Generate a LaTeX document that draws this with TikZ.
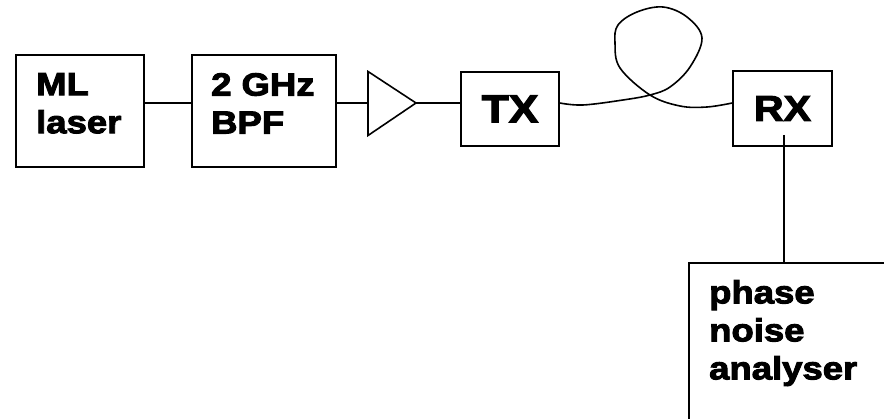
\documentclass[tikz,border=0pt]{standalone}
\usepackage{fontspec}
\newfontfamily\labelfont[FakeBold=3,FakeStretch=1.14]{Liberation Sans Bold}
\usetikzlibrary{positioning}

\begin{document}
\begin{tikzpicture}[
  x=1pt,y=-1pt,
  conn/.style={line width=1.6pt,black},
  blockbox/.style={rectangle,draw=black,line width=1.7pt,inner sep=0pt},
  lbl/.style={anchor=north west,align=left,inner sep=0pt,
              font=\labelfont\fontsize{32}{38}\selectfont},
]
  \useasboundingbox (0,0) rectangle (884,419);
  \clip (0,0) rectangle (884,419);

  % --- blocks ---
  \node[blockbox,minimum width=128pt,minimum height=112pt] (ml) at (80,111) {};
  \node[blockbox,minimum width=144pt,minimum height=112pt] (bpf) at (264,111) {};
  \node[blockbox,minimum width=98pt,minimum height=74pt,
        font=\labelfont\fontsize{39}{39}\selectfont] (tx) at (510,109) {TX};
  \node[blockbox,minimum width=99pt,minimum height=75pt,
        font=\labelfont\fontsize{36}{36}\selectfont] (rx) at (782.5,108.5) {RX};
  \node[blockbox,minimum width=231pt,minimum height=200pt] (pna) at (804.5,363) {};

  % --- block texts ---
  \node[lbl] (mltext) at (36,73) {ML\\laser};
  \node[lbl] (bpftext) at (211,73) {2 GHz\\BPF};
  \node[lbl] (pnatext) at (709,280) {phase\\noise\\analyser};

  % --- amplifier ---
  \coordinate (ampin) at (368,103);
  \coordinate (ampout) at (416,103);
  \draw[conn,line join=miter] (368,71.5) -- (ampout) -- (368,135.5) -- cycle;

  % --- connections ---
  \draw[conn] (ml.east |- ampin) -- (bpf.west |- ampin);
  \draw[conn] (bpf.east |- ampin) -- (ampin);
  \draw[conn] (ampout) -- ([xshift=2pt]tx.west |- ampout);

  % --- fibre loop ---
  \draw[conn] plot[smooth,tension=0.6] coordinates {
    (tx.east |- ampin) (583,105) (623,100) (650,95) (670,87) (690,67)
    (702,38) (687,17) (663,7) (637,12) (618,25) (615,43) (620,68)
    (650,95) (680,106) (707,107) (rx.west |- ampin)};

  % --- to the analyser ---
  \coordinate (rxtap) at (784,135);
  \draw[conn] (rxtap) -- (rxtap |- pna.north);

\end{tikzpicture}
\end{document}
